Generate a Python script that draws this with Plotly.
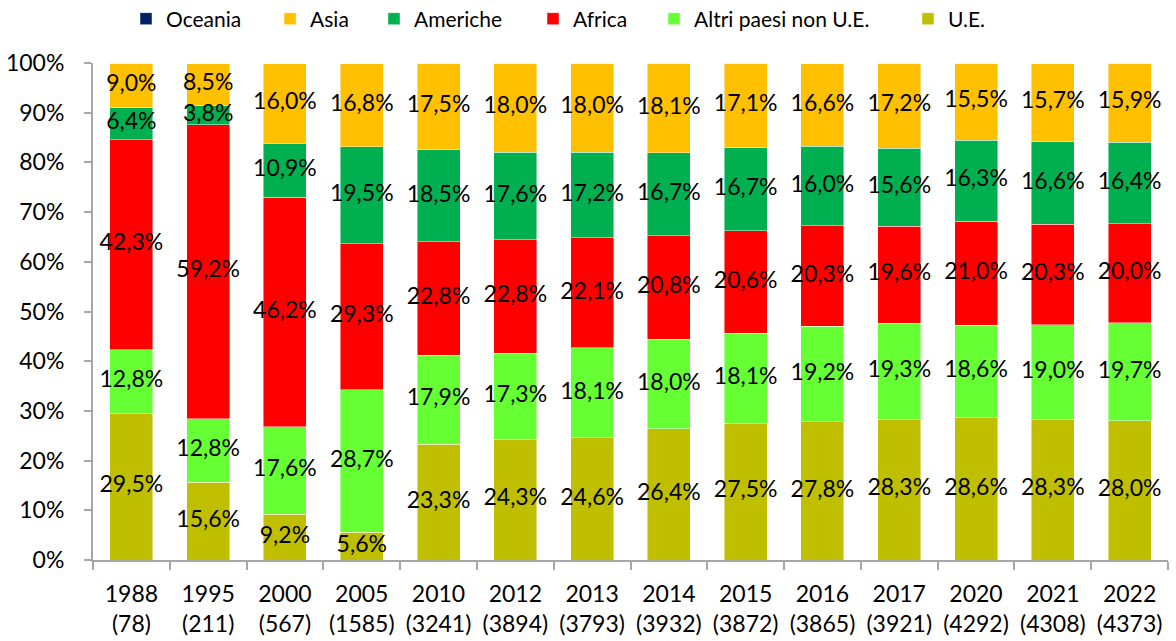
import plotly.graph_objects as go

years = ["1988", "1995", "2000", "2005", "2010", "2012", "2013", "2014", "2015",
         "2016", "2017", "2020", "2021", "2022"]
counts = ["78", "211", "567", "1585", "3241", "3894", "3793", "3932", "3872",
          "3865", "3921", "4292", "4308", "4373"]
categories = [f"{y}<br>({c})" for y, c in zip(years, counts)]

ue = [29.5, 15.6, 9.2, 5.6, 23.3, 24.3, 24.6, 26.4, 27.5, 27.8, 28.3, 28.6, 28.3, 28.0]
altri = [12.8, 12.8, 17.6, 28.7, 17.9, 17.3, 18.1, 18.0, 18.1, 19.2, 19.3, 18.6, 19.0, 19.7]
africa = [42.3, 59.2, 46.2, 29.3, 22.8, 22.8, 22.1, 20.8, 20.6, 20.3, 19.6, 21.0, 20.3, 20.0]
americhe = [6.4, 3.8, 10.9, 19.5, 18.5, 17.6, 17.2, 16.7, 16.7, 16.0, 15.6, 16.3, 16.6, 16.4]
asia = [9.0, 8.5, 16.0, 16.8, 17.5, 18.0, 18.0, 18.1, 17.1, 16.6, 17.2, 15.5, 15.7, 15.9]
oceania = [0.0] * 14

# (name, values, colour, show labels, legend id, legend x in paper fraction)
series = [
    ("U.E.", ue, "#BFBF00", True, "legend6", 0.7581),
    ("Altri paesi non U.E.", altri, "#66FF33", True, "legend5", 0.5219),
    ("Africa", africa, "#FF0000", True, "legend4", 0.4093),
    ("Americhe", americhe, "#00B050", True, "legend3", 0.2614),
    ("Asia", asia, "#FFC000", True, "legend2", 0.1647),
    ("Oceania", oceania, "#002060", False, "legend", 0.0307),
]

FONT = "Lato"
FS = 23

def fmt(v):
    return f"{v:.1f}".replace(".", ",") + "%"

fig = go.Figure()
for name, vals, color, labels, leg, lx in series:
    fig.add_trace(go.Bar(
        name=name,
        x=categories,
        y=vals,
        legend=leg,
        marker=dict(color=color, line=dict(color="rgba(255,255,255,0.6)", width=0.75)),
        hovertemplate=name + ": %{y}<extra></extra>",
    ))

# data labels centred in each stacked segment
base = [0.0] * len(categories)
for name, vals, color, labels, leg, lx in series:
    mids = [b + v / 2 for b, v in zip(base, vals)]
    if labels:
        fig.add_trace(go.Scatter(
            x=categories,
            y=mids,
            mode="text",
            text=[fmt(v) for v in vals],
            textposition="middle center",
            textfont=dict(family=FONT, size=FS, color="black"),
            showlegend=False,
            hoverinfo="skip",
            cliponaxis=False,
        ))
    base = [b + v for b, v in zip(base, vals)]

legend_layout = {}
for name, vals, color, labels, leg, lx in series:
    legend_layout[leg] = dict(
        orientation="h",
        x=lx, xanchor="left",
        y=1.0885, yanchor="middle",
        font=dict(family=FONT, size=21, color="black"),
        itemwidth=30,
        bgcolor="rgba(0,0,0,0)",
    )

fig.update_layout(
    width=1176,
    height=641,
    autosize=False,
    barmode="stack",
    bargap=0.44,
    plot_bgcolor="white",
    paper_bgcolor="white",
    margin=dict(l=93, r=8, t=63, b=81, autoexpand=False),
    font=dict(family=FONT, size=FS, color="black"),
    xaxis=dict(
        type="category",
        range=[-0.5, len(categories) - 0.5],
        showline=True, linecolor="#A6A6A6", linewidth=2,
        ticks="outside", tickson="boundaries", ticklen=8, tickcolor="#A6A6A6", tickwidth=2,
        showgrid=False,
        tickangle=0,
        ticklabelstandoff=12,
        tickfont=dict(family=FONT, size=FS, color="black"),
    ),
    yaxis=dict(
        range=[0, 100], dtick=10, ticksuffix="%",
        showline=True, linecolor="#A6A6A6", linewidth=2,
        ticks="outside", ticklen=7, tickcolor="#A6A6A6", tickwidth=2,
        showgrid=False, zeroline=False,
        ticklabelstandoff=15,
        tickfont=dict(family=FONT, size=FS, color="black"),
    ),
    **legend_layout,
)

fig.write_html(
    "out.html",
    config={"displayModeBar": False},
    post_script="document.body.style.margin='0';document.body.style.overflow='hidden';",
)
